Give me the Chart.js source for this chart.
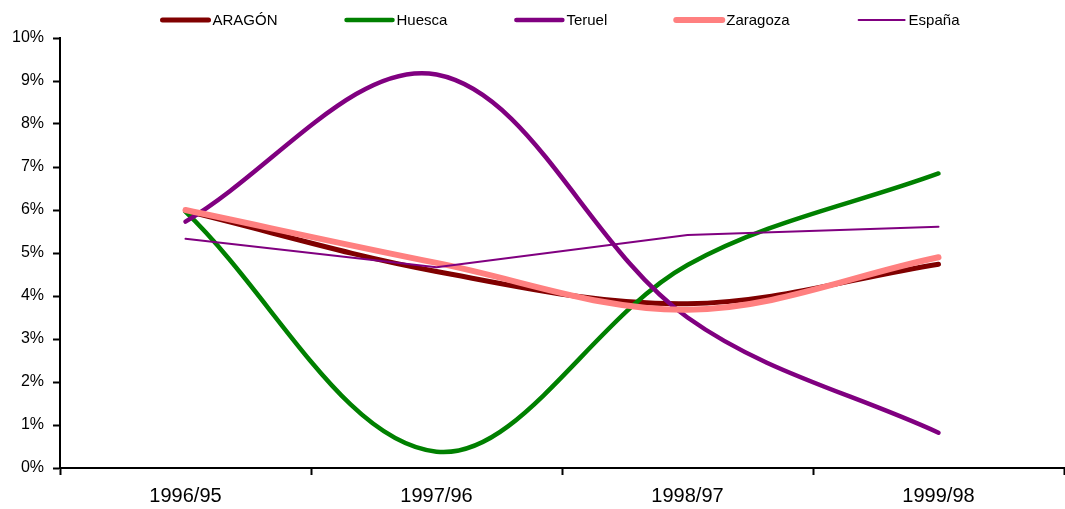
<!DOCTYPE html>
<html>
<head>
<meta charset="utf-8">
<script src="https://cdn.jsdelivr.net/npm/chart.js@4"></script>
<style>
	body { margin: 0; background: #fff; }
</style>
</head>
<body>
<canvas id="myChart" width="1065" height="509"></canvas>
<script>
const categorias = ['1996/95', '1997/96', '1998/97', '1999/98'];
const aragon = [5.98, 4.57, 3.82, 4.74];
const huesca = [5.96, 0.38, 4.72, 6.85];
const teruel = [5.73, 9.15, 3.50, 0.82];
const zaragoza = [6.00, 4.77, 3.68, 4.90];
const espana = [5.33, 4.67, 5.42, 5.61];

const fuente = '"Liberation Sans", Arial, sans-serif';

// Leyenda dibujada a mano: linea de 50px y texto pegado
const leyenda = {
	id: 'leyenda',
	afterDraw(chart) {
		const ctx = chart.ctx;
		const ds = chart.data.datasets;
		ctx.save();
		ctx.font = '15px ' + fuente;
		const anchoLinea = 50, hueco = 2, sep = 67;
		const anchos = ds.map(d => anchoLinea + hueco + ctx.measureText(d.label).width);
		const total = anchos.reduce((a, b) => a + b, 0) + sep * (ds.length - 1);
		let x = 560 - total / 2;
		const y = 20;
		ds.forEach((d, i) => {
			ctx.strokeStyle = d.borderColor;
			ctx.lineWidth = d.legendWidth;
			ctx.lineCap = 'round';
			ctx.beginPath();
			ctx.moveTo(x + 2, y);
			ctx.lineTo(x + anchoLinea - 2, y);
			ctx.stroke();
			ctx.fillStyle = '#000';
			ctx.textBaseline = 'middle';
			ctx.fillText(d.label, x + anchoLinea + hueco, y + 1);
			x += anchos[i] + sep;
		});
		ctx.restore();
	}
};

function serie(label, data, color, ancho, orden, tension) {
	return {
		label: label,
		data: data,
		borderColor: color,
		backgroundColor: color,
		borderWidth: ancho,
		legendWidth: ancho,
		borderCapStyle: 'round',
		borderJoinStyle: 'round',
		pointRadius: 0,
		pointHoverRadius: 0,
		tension: tension,
		fill: false,
		order: orden
	};
}

const config = {
	type: 'line',
	data: {
		labels: categorias,
		datasets: [
			serie('ARAGÓN', aragon, '#800000', 5, 5, 0.35),
			serie('Huesca', huesca, '#008000', 4.5, 4, 0.35),
			serie('Teruel', teruel, '#800080', 4.5, 3, 0.35),
			serie('Zaragoza', zaragoza, '#FF8080', 6, 2, 0.35),
			serie('España', espana, '#800080', 2, 1, 0)
		]
	},
	options: {
		responsive: false,
		animation: false,
		layout: { padding: { top: 38, right: 1, left: 0, bottom: 0 } },
		plugins: {
			legend: { display: false },
			tooltip: { enabled: false },
			title: { display: false }
		},
		scales: {
			x: {
				offset: true,
				grid: {
					offset: true,
					drawOnChartArea: false,
					drawTicks: true,
					tickLength: 7,
					tickWidth: 2,
					tickColor: '#000'
				},
				border: { color: '#000', width: 2 },
				ticks: {
					color: '#000',
					font: { family: fuente, size: 20 },
					padding: 9,
					maxRotation: 0
				},
				afterFit(scale) { scale.height = 41; }
			},
			y: {
				min: 0,
				max: 10,
				grid: {
					drawOnChartArea: false,
					drawTicks: true,
					tickLength: 7,
					tickWidth: 2,
					tickColor: '#000'
				},
				border: { color: '#000', width: 2 },
				ticks: {
					stepSize: 1,
					color: '#000',
					font: { family: fuente, size: 16 },
					padding: 9,
					callback: v => v + '%'
				},
				afterFit(scale) { scale.width = 60; }
			}
		}
	},
	plugins: [leyenda]
};

const ctx = document.getElementById('myChart').getContext('2d');
const chart = new Chart(ctx, config);
</script>
</body>
</html>
